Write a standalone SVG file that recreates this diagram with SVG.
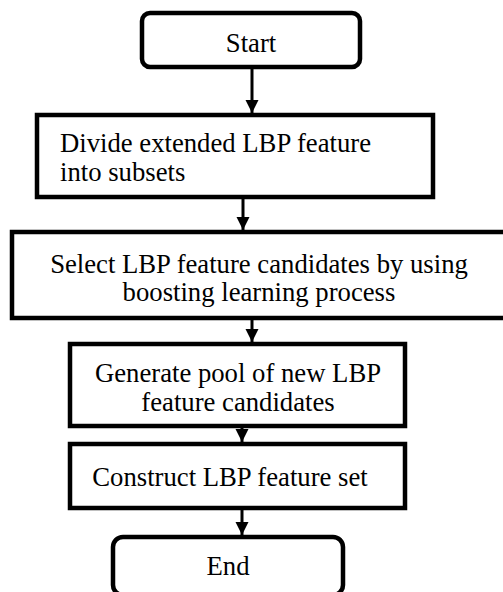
<svg xmlns="http://www.w3.org/2000/svg" width="503" height="592" viewBox="0 0 503 592">
<style>
.box{fill:#fff;stroke:#000;stroke-width:4.5}
text{font-family:'Liberation Serif','Times New Roman',serif;font-size:26.7px;fill:#000}
.c{text-anchor:middle}
.line{stroke:#000;stroke-width:3;fill:none}
</style>
<defs>
<marker id="ah" viewBox="0 0 10 10" refX="10" refY="5" markerWidth="4.5" markerHeight="4.5" orient="auto" markerUnits="strokeWidth">
<path d="M0,0 L10,5 L0,10 z" fill="#000"/>
</marker>
</defs>
<g id="connectors">
<line class="line" x1="252" y1="69" x2="252" y2="113" marker-end="url(#ah)"/>
<line class="line" x1="243" y1="198" x2="243" y2="230" marker-end="url(#ah)"/>
<line class="line" x1="252" y1="320" x2="252" y2="342" marker-end="url(#ah)"/>
<line class="line" x1="242" y1="427" x2="242" y2="442" marker-end="url(#ah)"/>
<line class="line" x1="242" y1="509" x2="242" y2="535" marker-end="url(#ah)"/>
</g>
<g id="start">
<rect class="box" x="142" y="13" width="218" height="54" rx="8"/>
<text class="c" x="251" y="52">Start</text>
</g>
<g id="divide">
<rect class="box" x="37" y="115" width="396" height="82"/>
<text x="60" y="152">Divide extended LBP feature</text>
<text x="60" y="181">into subsets</text>
</g>
<g id="select">
<rect class="box" x="12" y="232" width="495" height="86"/>
<text class="c" x="259" y="273">Select LBP feature candidates by using</text>
<text class="c" x="259" y="301">boosting learning process</text>
</g>
<g id="generate">
<rect class="box" x="70" y="344" width="335" height="82"/>
<text class="c" x="238" y="382">Generate pool of new LBP</text>
<text class="c" x="238" y="411">feature candidates</text>
</g>
<g id="construct">
<rect class="box" x="70" y="444" width="335" height="64"/>
<text class="c" x="230" y="486">Construct LBP feature set</text>
</g>
<g id="end">
<rect class="box" x="113" y="537" width="230" height="58" rx="10"/>
<text class="c" x="228" y="575">End</text>
</g>
</svg>
